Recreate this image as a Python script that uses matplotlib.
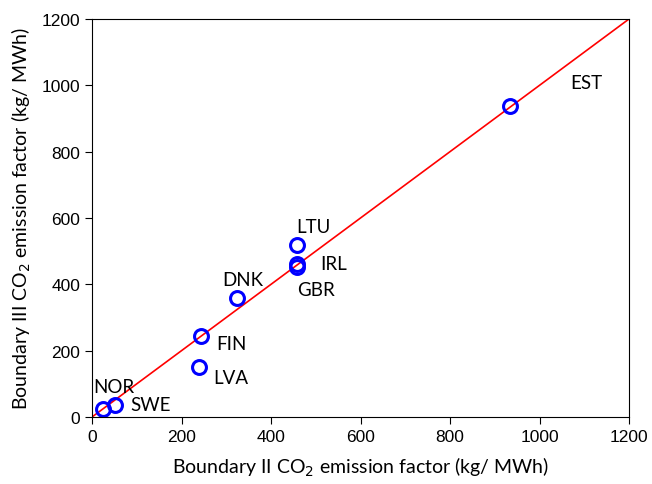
import matplotlib.pyplot as plt

countries = ["NOR", "SWE", "LVA", "FIN", "DNK", "LTU", "IRL", "GBR", "EST"]
boundary_ii = [25, 51, 239, 244, 324, 458, 457, 459, 934]
boundary_iii = [24, 36, 151, 244, 359, 518, 462, 453, 938]
label_x = [2, 85, 271, 277, 291, 456, 509, 458, 1068]
label_y = [93, 39, 118, 223, 416, 573, 464, 383, 1010]

label_font = ["Lato", "DejaVu Sans"]

fig = plt.figure(figsize=(6.52, 4.85), dpi=100)
ax = fig.add_axes([92 / 652, 67 / 485, 537 / 652, 398 / 485])

ax.plot([0, 1200], [0, 1200], color="red", lw=1.2, zorder=1)
ax.plot(boundary_ii, boundary_iii, "o", ms=10, mfc="none", mec="blue", mew=2.2, zorder=2)

for name, x, y in zip(countries, label_x, label_y):
    ax.text(x, y, name, fontsize=13.5, family=label_font, va="center", ha="left")

ax.set_xlim(0, 1200)
ax.set_ylim(0, 1200)
ax.set_xticks(range(0, 1201, 200))
ax.set_yticks(range(0, 1201, 200))
ax.tick_params(direction="out", length=5, labelsize=12.5,
               labelfontfamily="Liberation Sans")

ax.set_xlabel("Boundary II CO$_2$ emission factor (kg/ MWh)", fontsize=14,
              family=label_font, labelpad=8)
ax.set_ylabel("Boundary III CO$_2$ emission factor (kg/ MWh)", fontsize=14,
              family=label_font, labelpad=6)

fig.savefig("out.png", dpi=100)
